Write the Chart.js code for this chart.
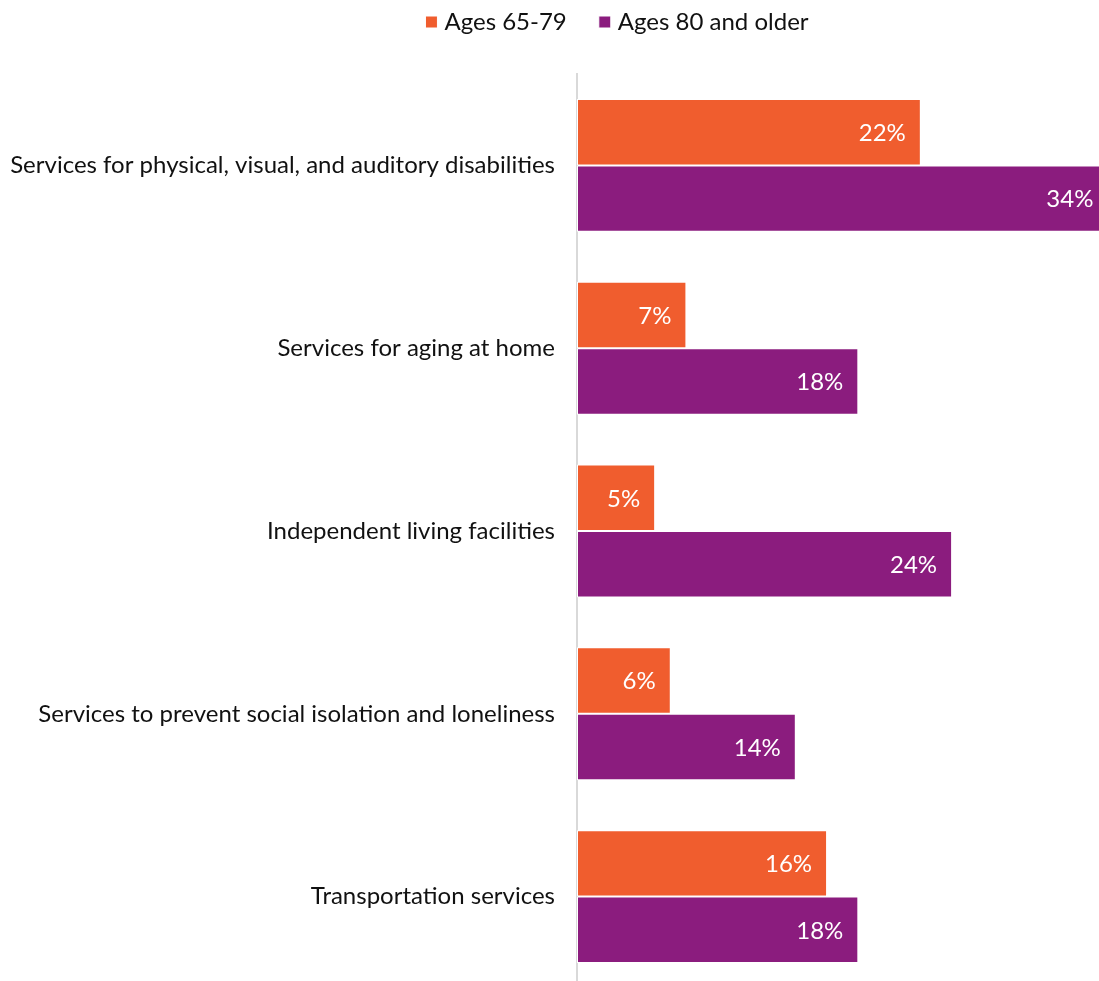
<!DOCTYPE html>
<html>
<head>
<meta charset="utf-8">
<script src="https://cdn.jsdelivr.net/npm/chart.js@4/dist/chart.umd.min.js"></script>
<style>
  html, body { margin: 0; padding: 0; background: #fff; overflow: hidden; }
  #wrap { width: 1099px; height: 988px; position: relative; }
</style>
</head>
<body>
<div id="wrap"><canvas id="c"></canvas></div>
<script>
// Service categories (y axis)
const categories = [
  "Services for physical, visual, and auditory disabilities",
  "Services for aging at home",
  "Independent living facilities",
  "Services to prevent social isolation and loneliness",
  "Transportation services"
];
// Share of respondents, percent
const ages65to79 = [22, 7, 5, 6, 16];
const ages80plus = [34, 18, 24, 14, 18];
const seriesNames = ["Ages 65-79", "Ages 80 and older"];
const seriesColors = ["#F05D2E", "#8B1C7E"];

const FONT = "Lato, 'Open Sans', sans-serif";
const LEGEND_PAD = 37;

// Writes each value as a white percentage just inside the end of its bar
const valueLabels = {
  id: "valueLabels",
  afterDatasetsDraw(chart) {
    const ctx = chart.ctx;
    ctx.save();
    ctx.font = "24px " + FONT;
    ctx.fillStyle = "#ffffff";
    ctx.textAlign = "right";
    ctx.textBaseline = "middle";
    chart.data.datasets.forEach((ds, di) => {
      chart.getDatasetMeta(di).data.forEach((bar, i) => {
        ctx.fillText(ds.data[i] + "%", bar.x - 15, bar.y + 1);
      });
    });
    ctx.restore();
  }
};

// Fixed legend band height, with the legend row sitting near the top edge
// and centred over the bar area
const legendPlacement = {
  id: "legendPlacement",
  beforeInit(chart) {
    const legend = chart.legend;
    const fit = legend.fit;
    legend.fit = function () {
      fit.call(this);
      this.height = 74;
    };
  },
  afterLayout(chart) {
    const legend = chart.legend;
    legend.top = 10 - LEGEND_PAD;
    const shift = 70;
    legend.left += shift;
    legend.right += shift;
  }
};

new Chart(document.getElementById("c"), {
  type: "bar",
  data: {
    labels: categories,
    datasets: [
      { label: seriesNames[0], data: ages65to79, backgroundColor: seriesColors[0] },
      { label: seriesNames[1], data: ages80plus, backgroundColor: seriesColors[1] }
    ]
  },
  options: {
    indexAxis: "y",
    responsive: true,
    maintainAspectRatio: false,
    animation: false,
    layout: { padding: 0 },
    datasets: {
      bar: {
        categoryPercentage: 0.727,
        barPercentage: 1,
        borderColor: "#ffffff",
        borderWidth: 1,
        borderSkipped: false
      }
    },
    plugins: {
      legend: {
        position: "top",
        labels: {
          font: { family: FONT, size: 24 },
          color: "#111111",
          usePointStyle: true,
          pointStyle: "rect",
          boxWidth: 2,
          boxHeight: 12,
          padding: LEGEND_PAD
        }
      },
      tooltip: { enabled: false }
    },
    scales: {
      x: {
        min: 0,
        max: 33.4,
        display: false,
        grid: { display: false }
      },
      y: {
        grid: { display: false, drawTicks: false },
        border: { display: true, color: "#d9d9d9", width: 2 },
        ticks: {
          font: { family: FONT, size: 24 },
          color: "#111111",
          padding: 22
        },
        // wide label column; no extra vertical margins around the bands
        afterFit(scale) {
          scale.width = 577;
          scale.paddingTop = 0;
          scale.paddingBottom = 0;
        }
      }
    }
  },
  plugins: [legendPlacement, valueLabels]
});
</script>
</body>
</html>
